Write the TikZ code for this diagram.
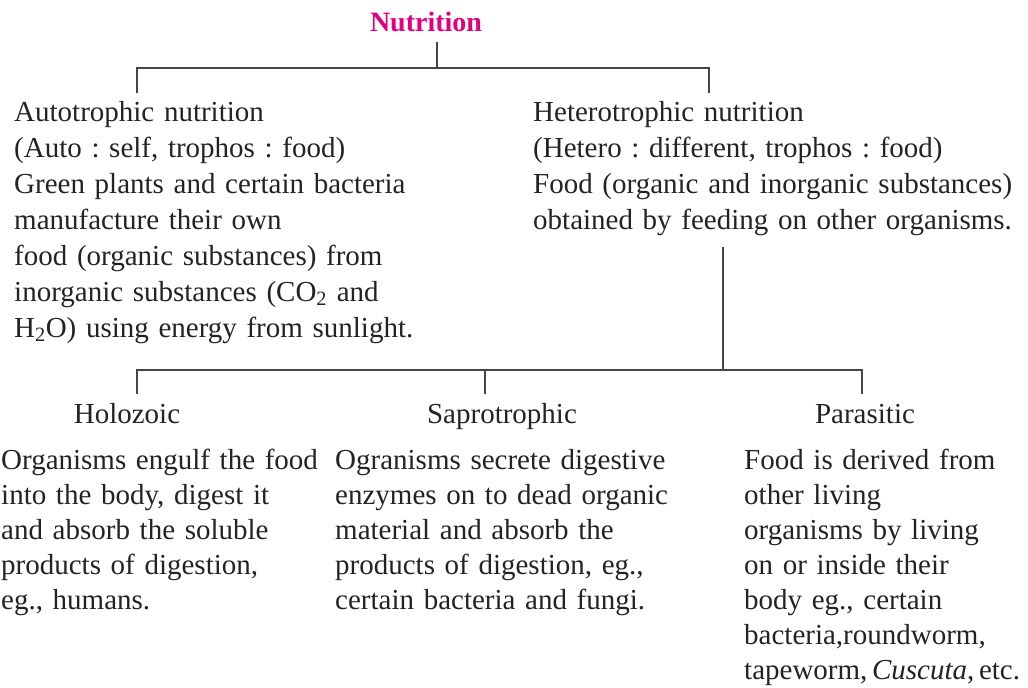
\documentclass[tikz,border=0pt]{standalone}
\usepackage{fontspec}
\setmainfont{Liberation Serif}
\frenchspacing
\definecolor{nutmag}{RGB}{228,0,124}
\definecolor{txt}{RGB}{35,35,35}
\definecolor{ln}{RGB}{70,70,70}
\tikzset{
  x=1pt, y=-1pt,
  title/.style={font=\fontsize{28}{34}\selectfont\bfseries, text=nutmag, inner sep=0pt, anchor=base},
  blocktop/.style={font=\fontsize{29}{36}\selectfont\frenchspacing, text=txt, inner sep=0pt, align=left, anchor=base west},
  blockbot/.style={font=\fontsize{29}{35}\selectfont\frenchspacing, text=txt, inner sep=0pt, align=left, anchor=base west},
  label/.style={font=\fontsize{29}{35}\selectfont, text=txt, inner sep=0pt, anchor=base},
  conn/.style={draw=ln, line width=1.8pt}
}
\begin{document}
\begin{tikzpicture}
\useasboundingbox (0,0) rectangle (1028,688);
% title
\node[title] (nut) at (426,31) {Nutrition};
% top blocks
\node[blocktop, text width=420pt] (auto) at (14,121) {Autotrophic nutrition\\(Auto : self, trophos : food)\\Green plants and certain bacteria\\manufacture their own\\food (organic substances) from\\inorganic substances (CO\textsubscript{2} and\\H\textsubscript{2}O) using energy from sunlight.};
\node[blocktop, text width=490pt] (het) at (533,121) {Heterotrophic nutrition\\(Hetero : different, trophos : food)\\Food (organic and inorganic substances)\\obtained by feeding on other organisms.};
% labels
\node[label] (holo) at (127,423) {Holozoic};
\node[label] (sapro) at (502,423) {Saprotrophic};
\node[label] (para) at (865,423) {Parasitic};
% bottom blocks
\node[blockbot, text width=325pt] (holot) at (1,469) {Organisms engulf the food\\into the body, digest it\\and absorb the soluble\\products of digestion,\\eg., humans.};
\node[blockbot, text width=400pt] (saprot) at (335,469) {Ogranisms secrete digestive\\enzymes on to dead organic\\material and absorb the\\products of digestion, eg.,\\certain bacteria and fungi.};
\node[blockbot, text width=280pt] (parat) at (744,469) {Food is derived from\\other living\\organisms by living\\on or inside their\\body eg., certain\\bacteria,roundworm,\\{\spaceskip=0.16em\relax tapeworm, \textit{Cuscuta}, etc.}};
% connector coordinates
\coordinate (nb) at (437,42);
\coordinate (nj) at (437,68);
\coordinate (tl) at (137,68);
\coordinate (tr) at (709,68);
\coordinate (ae) at (137,93);
\coordinate (he) at (709,93);
\coordinate (hb) at (723,247);
\coordinate (hj) at (723,370);
\coordinate (bl) at (137,370);
\coordinate (br) at (862,370);
\coordinate (bc) at (485,370);
\coordinate (le) at (137,394);
\coordinate (ce) at (485,394);
\coordinate (re) at (862,394);
% connectors
\draw[conn] (nb) -- (nj);
\draw[conn] (ae) -- (tl) -- (tr) -- (he);
\draw[conn] (hb) -- (hj);
\draw[conn] (le) -- (bl) -- (br) -- (re);
\draw[conn] (bc) -- (ce);
\end{tikzpicture}
\end{document}
